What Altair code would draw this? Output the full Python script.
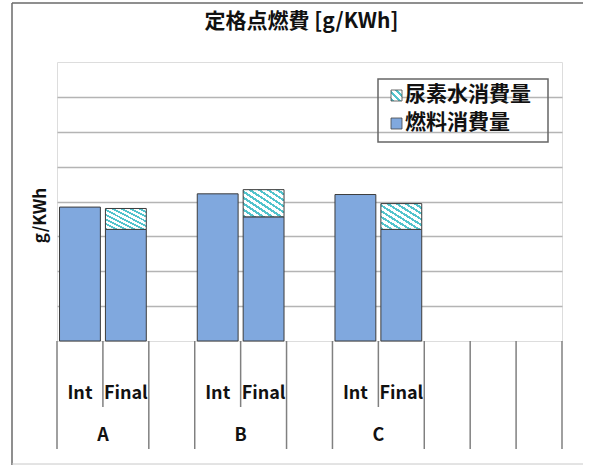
import altair as alt
import pandas as pd

# ---- data ----
slots = ["A|Int", "A|Final", "gap1", "B|Int", "B|Final", "gap2",
         "C|Int", "C|Final", "gap3", "gap4", "gap5"]
bar_slots = ["A|Int", "A|Final", "B|Int", "B|Final", "C|Int", "C|Final"]
stage_labels = ["Int", "Final", "Int", "Final", "Int", "Final"]
group_labels = ["A", "B", "C"]
group_first_slot = ["A|Int", "B|Int", "C|Int"]
fuel = [192, 160, 211, 178, 210, 160]      # 燃料消費量
urea = [0, 30, 0, 39, 0, 37]               # 尿素水消費量
series = ["尿素水消費量", "燃料消費量"]
y_grid = [50, 100, 150, 200, 250, 300, 350]

FONT = "Noto Sans CJK JP"
BLUE = "#80a8de"
TEAL = "#52c3cc"
GRID = "#b4b4b4"
LINE = "#808080"

bars = pd.DataFrame({"slot": bar_slots, "stage": stage_labels,
                     "fuel": fuel, "urea": urea})
bars["total"] = bars["fuel"] + bars["urea"]
urea_df = bars[bars["urea"] > 0]

groups_df = pd.DataFrame({"slot": group_first_slot, "group": group_labels})
long_rules = pd.DataFrame({"slot": [s for s in slots if "Final" not in s]})
end_rule = pd.DataFrame({"slot": [slots[-1]]})
short_rules = pd.DataFrame({"slot": [s for s in slots if "Final" in s]})
legend_urea = pd.DataFrame({"series": [series[0]]})
legend_fuel = pd.DataFrame({"series": [series[1]]})

xscale = alt.Scale(domain=slots, paddingInner=0, paddingOuter=0)
yscale = alt.Scale(domain=[0, 400], nice=False)


def stripes(n):
    st = []
    for k in range(n):
        a, m, b = k / n, (k + 0.42) / n, (k + 1) / n
        st += [alt.GradientStop(offset=a, color=TEAL),
               alt.GradientStop(offset=m, color=TEAL),
               alt.GradientStop(offset=m, color="white"),
               alt.GradientStop(offset=b, color="white")]
    return alt.LinearGradient(gradient="linear", stops=st, x1=0, y1=1, x2=1, y2=0)


fuel_layer = alt.Chart(bars).mark_bar(
    width=alt.RelativeBandSize(0.89), stroke="#3c3c3c", strokeWidth=1, fill=BLUE
).encode(
    x=alt.X("slot:N", scale=xscale, axis=None),
    y=alt.Y("fuel:Q", scale=yscale,
            axis=alt.Axis(values=y_grid, grid=True, labels=False, ticks=False,
                          domain=False, title="g/KWh", titleFont=FONT,
                          titleFontSize=17, titleFontWeight="bold",
                          titleColor="#111", titleX=-17, titleY=153,
                          titleAngle=270, titleAlign="center",
                          titleBaseline="middle", gridColor=GRID,
                          gridWidth=1.5)),
    y2=alt.Y2(datum=0),
)

urea_layer = alt.Chart(urea_df).mark_bar(
    width=alt.RelativeBandSize(0.89), stroke="#3c3c3c", strokeWidth=1,
    fill=stripes(9)
).encode(
    x=alt.X("slot:N", scale=xscale),
    y=alt.Y("total:Q", scale=yscale),
    y2=alt.Y2("fuel:Q"),
)

one = alt.Data(values=[{}])
legend_box = alt.Chart(one).mark_rect(
    fillOpacity=0, stroke="#666", strokeWidth=1.5
).encode(x=alt.value(321), x2=alt.value(491), y=alt.value(17), y2=alt.value(80))

sw1 = alt.Chart(legend_urea).mark_rect(fill=stripes(3), stroke="#444",
                                       strokeWidth=0.8).encode(
    x=alt.value(334), x2=alt.value(345), y=alt.value(28), y2=alt.value(39))
sw2 = alt.Chart(legend_fuel).mark_rect(fill=BLUE, stroke="#444",
                                       strokeWidth=0.8).encode(
    x=alt.value(334), x2=alt.value(345), y=alt.value(56), y2=alt.value(67))
lt1 = alt.Chart(legend_urea).mark_text(
    font=FONT, fontSize=21, fontWeight="bold", color="#111", align="left",
    baseline="middle").encode(x=alt.value(348), y=alt.value(33), text="series:N")
lt2 = alt.Chart(legend_fuel).mark_text(
    font=FONT, fontSize=21, fontWeight="bold", color="#111", align="left",
    baseline="middle").encode(x=alt.value(348), y=alt.value(61), text="series:N")

FR = "#6a6a6a"
frame_top = alt.Chart(one).mark_rule(color=FR, strokeWidth=1.5).encode(
    x=alt.value(-45), x2=alt.value(560), y=alt.value(-59))
frame_left = alt.Chart(one).mark_rule(color=FR, strokeWidth=1.5).encode(
    x=alt.value(-45), y=alt.value(-59), y2=alt.value(403))
frame_bottom = alt.Chart(one).mark_rule(color="#c8c8c8", strokeWidth=1).encode(
    x=alt.value(-45), x2=alt.value(560), y=alt.value(402))

long_rule = alt.Chart(long_rules).mark_rule(color=LINE, strokeWidth=1.5).encode(
    x=alt.X("slot:N", scale=xscale, bandPosition=0),
    y=alt.value(279), y2=alt.value(387))
end_rule_l = alt.Chart(end_rule).mark_rule(color=LINE, strokeWidth=1.5).encode(
    x=alt.X("slot:N", scale=xscale, bandPosition=1),
    y=alt.value(279), y2=alt.value(387))
short_rule = alt.Chart(short_rules).mark_rule(color=LINE, strokeWidth=1.5).encode(
    x=alt.X("slot:N", scale=xscale, bandPosition=0),
    y=alt.value(279), y2=alt.value(345))

stage_text = alt.Chart(bars).mark_text(
    font=FONT, fontSize=18, fontWeight="bold", color="#111", baseline="middle"
).encode(x=alt.X("slot:N", scale=xscale), y=alt.value(332), text="stage:N")

group_text = alt.Chart(groups_df).mark_text(
    font=FONT, fontSize=18, fontWeight="bold", color="#111", baseline="middle"
).encode(x=alt.X("slot:N", scale=xscale, bandPosition=1), y=alt.value(374),
         text="group:N")

chart = alt.layer(
    frame_top, frame_left, frame_bottom, fuel_layer, urea_layer, legend_box,
    sw1, sw2, lt1, lt2,
    long_rule, end_rule_l, short_rule, stage_text, group_text
).properties(
    width=505, height=279,
    title=alt.TitleParams("定格点燃費  [g/KWh]", font=FONT, fontSize=21,
                          fontWeight="bold", color="#111", anchor="middle",
                          offset=-30, dx=-8),
    autosize=alt.AutoSizeParams(type="none"),
    padding={"left": 57, "top": 62, "right": 21, "bottom": 124},
).configure_view(
    stroke=LINE, strokeWidth=1.5
).configure(background="white")

chart.save("out.html", embed_options={"renderer": "svg", "actions": False})
